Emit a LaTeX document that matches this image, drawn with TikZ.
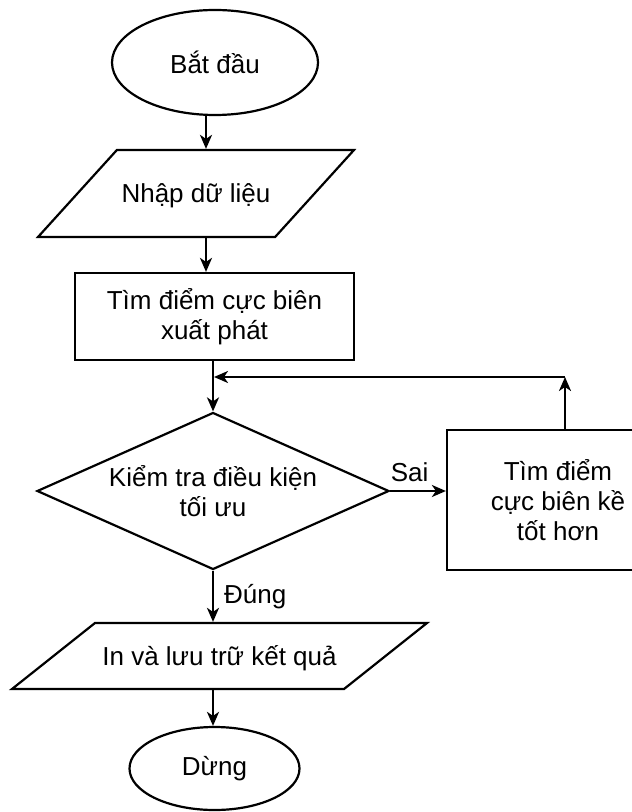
\documentclass[tikz,border=0pt]{standalone}
\usepackage{fontspec}
\setmainfont{Liberation Sans}
\usetikzlibrary{shapes.geometric,arrows.meta}

\tikzset{
  every node/.style={font=\fontsize{13}{15}\selectfont, align=center},
  term/.style={draw, ellipse, line width=1.1pt, inner sep=0pt},
  io/.style={draw, trapezium, trapezium stretches body, line width=1.1pt, inner sep=0pt},
  proc/.style={draw, rectangle, line width=1.1pt, inner sep=0pt},
  cond/.style={draw, diamond, aspect=2.24, line width=1.1pt, inner sep=0pt},
  arr/.style={-{Stealth[length=7pt,width=6pt,inset=2pt]}, line width=1.1pt},
  lbl/.style={inner sep=0pt}
}

\begin{document}
\begin{tikzpicture}[x=0.5pt, y=-0.5pt]
\def\xa{206}
\def\xm{213}

\def\ya{62.5}
\def\yb{193.5}
\def\yc{316.5}
\def\yd{491}
\def\ye{656}
\def\yf{768.5}
\def\yloop{377}

\useasboundingbox (0,0) rectangle (631,812);

\node[term, minimum width=103pt, minimum height=52.5pt] (start) at (215, \ya) {Bắt đầu};
\node[io, trapezium left angle=47.8, trapezium right angle=132.2,
      text height=26.45pt, text depth=17.05pt, minimum width=158pt] (input) at (196, \yb) {Nhập dữ liệu};
\node[proc, minimum width=139.5pt, minimum height=43.5pt] (init) at (214.5, \yc) {Tìm điểm cực biên\\xuất phát};
\node[cond, minimum width=176pt, minimum height=78.5pt] (check) at (\xm, \yd) {Kiểm tra điều kiện\\tối ưu};
\node[proc, minimum width=111pt, minimum height=70pt] (next) at (558, 500) {Tìm điểm\\cực biên kề\\tốt hơn};
\node[io, trapezium left angle=38.5, trapezium right angle=141.5,
      text height=21.2pt, text depth=11.8pt, minimum width=207.5pt] (output) at (219.5, \ye) {In và lưu trữ kết quả};
\node[term, minimum width=85pt, minimum height=41.5pt] (stop) at (214.5, \yf) {Dừng};

\coordinate (col) at (\xa, 0);
\coordinate (turn) at (565, \yloop);

\draw[arr] (start.south -| col) -- (input.north -| col);
\draw[arr] (input.south -| col) -- (init.north -| col);
\draw[arr] (init.south -| check.north) -- (check.north);
\draw[arr] (check.east) -- node[lbl, above=4pt, pos=0.35] {Sai} (check.east -| next.west);
\draw[arr] (next.north -| turn) -- (turn);
\draw[arr, shorten >=0.5pt] (turn) -- (turn -| check.north);
\draw[arr] (check.south) -- node[lbl, right=5pt] {Đúng} (output.north -| check.south);
\draw[arr] (output.south -| check.south) -- (stop.north -| check.south);

\end{tikzpicture}
\end{document}
